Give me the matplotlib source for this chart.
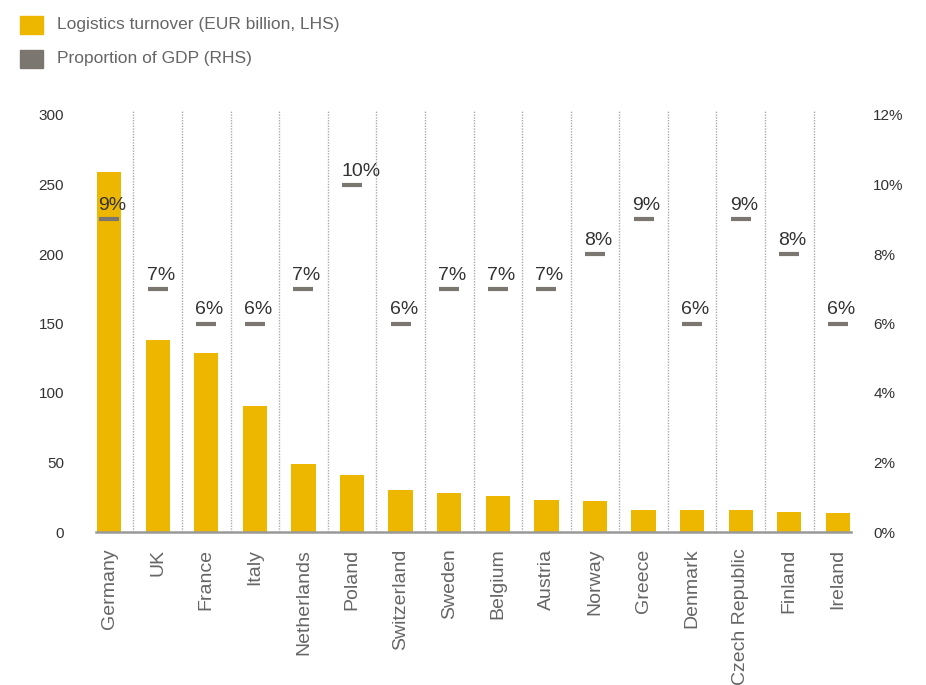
import numpy as np
import matplotlib.pyplot as plt
from matplotlib.patches import Rectangle

plt.rcParams['font.family'] = ['Liberation Sans', 'DejaVu Sans']

# dados
paises = ["Germany", "UK", "France", "Italy", "Netherlands", "Poland", "Switzerland",
          "Sweden", "Belgium", "Austria", "Norway", "Greece", "Denmark",
          "Czech Republic", "Finland", "Ireland"]
turnover = [259, 138, 129, 91, 49, 41, 30, 28, 26, 23, 22, 16, 16, 16, 14.5, 14]
pib_pct = [9, 7, 6, 6, 7, 10, 6, 7, 7, 7, 8, 9, 6, 9, 8, 6]
ticks_esq = [0, 50, 100, 150, 200, 250, 300]
ticks_dir = [0, 2, 4, 6, 8, 10, 12]

amarelo = "#EDB700"
cinza = "#7B7770"

fig = plt.figure(figsize=(9.26, 6.85), dpi=100)
ax = fig.add_axes([96/926, 1-532/685, 755/926, 417/685])
ax2 = ax.twinx()

x = np.arange(len(paises))
ax.bar(x, turnover, width=0.5, color=amarelo, zorder=2)
ax.set_xlim(-0.27, len(paises) - 0.73)
ax.set_ylim(0, 300)
ax.set_yticks(ticks_esq)

# linhas pontilhadas entre categorias
for xi in x[:-1] + 0.5:
    ax.plot([xi, xi], [0, 303.5], color="#aaaaaa", lw=1, ls=(0, (1, 1)),
            clip_on=False, zorder=1)

ax2.set_ylim(0, 12)
ax2.set_yticks(ticks_dir)
ax2.set_yticklabels([f"{t}%" for t in ticks_dir])
ax2.plot(x, pib_pct, ls="none", marker="_", ms=15, mew=3, color=cinza, zorder=3)
for xi, p in zip(x, pib_pct):
    ax2.annotate(f"{p}%", (xi, p), xytext=(-11, 9), textcoords="offset pixels",
                 ha="left", va="baseline", fontsize=14, color="#333333")

for a in (ax, ax2):
    for s in a.spines.values():
        s.set_visible(False)
ax.spines["bottom"].set_visible(True)
ax.spines["bottom"].set_color("#999999")
ax.spines["bottom"].set_linewidth(1.8)

ax.tick_params(axis="y", length=0, pad=23, labelsize=11, labelcolor="#333333")
ax2.tick_params(axis="y", length=0, pad=16, labelsize=11, labelcolor="#333333")
ax.set_xticks(x)
ax.set_xticklabels(paises, rotation=90, fontsize=14, color="#666666")
ax.tick_params(axis="x", length=0, pad=12)

# legenda manual
fig.add_artist(Rectangle((20/926, 1-34/685), 23/926, 18/685, color=amarelo,
                         transform=fig.transFigure))
fig.add_artist(Rectangle((20/926, 1-68/685), 23/926, 18/685, color=cinza,
                         transform=fig.transFigure))
fig.text(57/926, 1-25/685, "Logistics turnover (EUR billion, LHS)", fontsize=12.5,
         color="#666666", va="center")
fig.text(57/926, 1-59/685, "Proportion of GDP (RHS)", fontsize=12.5,
         color="#666666", va="center")

fig.savefig("out.png", dpi=100)
